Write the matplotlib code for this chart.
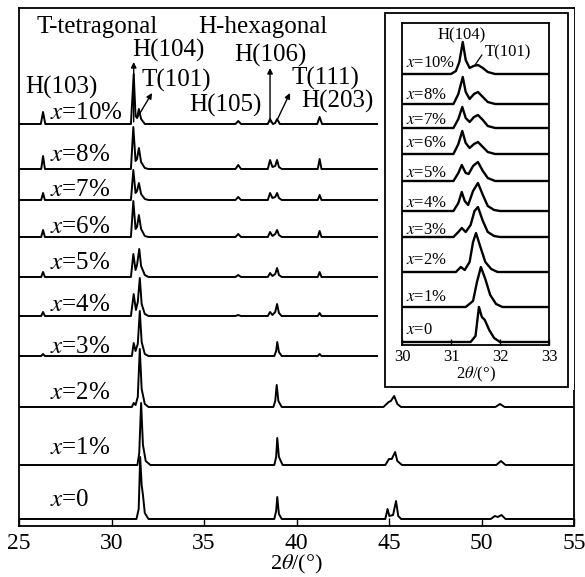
import matplotlib
matplotlib.use("Agg")
import matplotlib.pyplot as plt
from matplotlib.patches import Rectangle

plt.rcParams["font.family"] = ["Liberation Serif", "DejaVu Serif"]
plt.rcParams["mathtext.fontset"] = "stix"

# ── Data: (2theta, intensity above own baseline) ──────────────────────────────
labels = ["$x$=0", "$x$=1%", "$x$=2%", "$x$=3%", "$x$=4%",
          "$x$=5%", "$x$=6%", "$x$=7%", "$x$=8%", "$x$=10%"]

main_0 = [(25, 0), (31.35, 0), (31.47, 10), (31.55, 62), (31.63, 34), (31.7, 24),
          (31.8, 6), (32.0, 0), (38.8, 0), (38.9, 8), (38.96, 22), (39.05, 5),
          (39.2, 0), (44.8, 0), (44.92, 10), (45.02, 3), (45.22, 4), (45.38, 18),
          (45.5, 3), (45.65, 0), (50.5, 0), (50.72, 3), (50.88, 2), (51.08, 4),
          (51.3, 0), (55, 0)]
main_1 = [(25, 0), (31.4, 0), (31.5, 12), (31.6, 62), (31.7, 20), (31.85, 4),
          (32.1, 0), (38.8, 0), (38.9, 8), (38.96, 27), (39.05, 8), (39.25, 0),
          (44.8, 0), (45.0, 6), (45.15, 6), (45.33, 13), (45.45, 4), (45.7, 0),
          (50.8, 0), (51.05, 4), (51.3, 0), (55, 0)]
main_2 = [(25, 0), (31.1, 0), (31.2, 4), (31.3, 2), (31.42, 10), (31.53, 58),
          (31.63, 18), (31.8, 3), (32.0, 0), (38.75, 0), (38.85, 6), (38.93, 22),
          (39.02, 6), (39.2, 0), (44.7, 0), (44.98, 5), (45.1, 6), (45.28, 11),
          (45.45, 3), (45.65, 0), (50.75, 0), (51.0, 3), (51.25, 0), (55, 0)]
main_3 = [(25, 0), (26.2, 0), (26.3, 2), (26.4, 0), (31.1, 0), (31.2, 13),
          (31.3, 5), (31.42, 12), (31.53, 45), (31.63, 14), (31.8, 2), (32.0, 0),
          (38.8, 0), (38.9, 5), (38.96, 14), (39.05, 4), (39.2, 0), (41.15, 0),
          (41.25, 2), (41.35, 0), (55, 0)]
main_4 = [(25, 0), (26.2, 0), (26.3, 4), (26.4, 0), (31.05, 0), (31.2, 22),
          (31.32, 6), (31.42, 14), (31.53, 38), (31.63, 12), (31.8, 2), (32.0, 0),
          (36.7, 0), (36.85, 1), (37.0, 0), (38.45, 0), (38.57, 4), (38.7, 1),
          (38.85, 4), (38.95, 12), (39.05, 3), (39.2, 0), (41.15, 0), (41.25, 3),
          (41.35, 0), (55, 0)]
main_5 = [(25, 0), (26.2, 0), (26.3, 5), (26.4, 0), (31.05, 0), (31.18, 23),
          (31.3, 7), (31.38, 12), (31.5, 28), (31.6, 11), (31.8, 2), (32.0, 0),
          (36.7, 0), (36.85, 2), (37.0, 0), (38.45, 0), (38.57, 4), (38.7, 1),
          (38.85, 3), (38.95, 9), (39.05, 2), (39.2, 0), (41.15, 0), (41.25, 5),
          (41.35, 0), (55, 0)]
main_6 = [(25, 0), (26.2, 0), (26.3, 7), (26.4, 0), (31.05, 0), (31.18, 36),
          (31.3, 8), (31.38, 10), (31.48, 22), (31.6, 8), (31.8, 1), (32.0, 0),
          (36.7, 0), (36.85, 3), (37.0, 0), (38.45, 0), (38.57, 5), (38.7, 1),
          (38.85, 3), (38.95, 7), (39.05, 2), (39.2, 0), (41.15, 0), (41.25, 6),
          (41.35, 0), (55, 0)]
main_7 = [(25, 0), (26.2, 0), (26.3, 7), (26.4, 0), (31.05, 0), (31.18, 30),
          (31.3, 7), (31.38, 9), (31.48, 17), (31.6, 6), (31.8, 1), (32.0, 0),
          (36.7, 0), (36.85, 3), (37.0, 0), (38.45, 0), (38.57, 7), (38.7, 2),
          (38.85, 3), (38.95, 7), (39.05, 2), (39.2, 0), (41.15, 0), (41.25, 5),
          (41.35, 0), (55, 0)]
main_8 = [(25, 0), (26.2, 0), (26.3, 13), (26.4, 0), (31.05, 0), (31.18, 42),
          (31.3, 8), (31.38, 10), (31.48, 21), (31.6, 7), (31.8, 1), (32.0, 0),
          (36.7, 0), (36.85, 4), (37.0, 0), (38.45, 0), (38.57, 9), (38.7, 2),
          (38.85, 3), (38.95, 9), (39.05, 2), (39.2, 0), (41.15, 0), (41.25, 10),
          (41.35, 0), (55, 0)]
main_10 = [(25, 0), (26.18, 0), (26.3, 12), (26.42, 0), (31.05, 0), (31.2, 50),
           (31.3, 8), (31.38, 6), (31.48, 15), (31.6, 5), (31.8, 0), (36.7, 0),
           (36.85, 3), (37.0, 0), (38.45, 0), (38.57, 5), (38.72, 0), (38.85, 1),
           (38.95, 5), (39.1, 0), (41.12, 0), (41.25, 7), (41.38, 0), (55, 0)]

# inset, 30-33 deg
ins_0 = [(30, 0), (31.4, 0), (31.5, 6), (31.57, 35), (31.63, 25), (31.69, 22),
         (31.78, 12), (31.88, 4), (32.0, 0), (33, 0)]
ins_1 = [(30, 0), (31.3, 0), (31.45, 6), (31.53, 25), (31.61, 40), (31.7, 28),
         (31.8, 12), (31.92, 3), (32.05, 0), (33, 0)]
ins_2 = [(30, 0), (31.1, 0), (31.2, 5), (31.28, 2), (31.38, 10), (31.45, 30),
         (31.51, 39), (31.6, 25), (31.7, 10), (31.82, 3), (31.95, 0), (33, 0)]
ins_3 = [(30, 0), (31.05, 0), (31.15, 5), (31.22, 9), (31.3, 5), (31.4, 12),
         (31.48, 26), (31.55, 30), (31.65, 16), (31.75, 5), (31.88, 1), (32.0, 0), (33, 0)]
ins_4 = [(30, 0), (31.05, 0), (31.15, 8), (31.22, 19), (31.28, 10), (31.35, 6),
         (31.45, 20), (31.55, 28), (31.65, 16), (31.75, 5), (31.88, 1), (32.0, 0), (33, 0)]
ins_5 = [(30, 0), (31.05, 0), (31.15, 8), (31.22, 16), (31.3, 8), (31.36, 7),
         (31.45, 15), (31.55, 19), (31.65, 10), (31.75, 3), (31.9, 0), (33, 0)]
ins_6 = [(30, 0), (31.05, 0), (31.15, 10), (31.23, 23), (31.3, 11), (31.38, 6),
         (31.47, 10), (31.55, 12), (31.65, 7), (31.75, 2), (31.9, 0), (33, 0)]
ins_7 = [(30, 0), (31.05, 0), (31.15, 9), (31.23, 21), (31.3, 10), (31.38, 6),
         (31.47, 11), (31.55, 13), (31.65, 8), (31.75, 2), (31.9, 0), (33, 0)]
ins_8 = [(30, 0), (31.05, 0), (31.15, 10), (31.24, 27), (31.3, 12), (31.38, 5),
         (31.47, 10), (31.55, 12), (31.65, 7), (31.75, 2), (31.9, 0), (33, 0)]
ins_10 = [(30, 0), (31.0, 0), (31.1, 3), (31.17, 12), (31.24, 32), (31.3, 14),
          (31.38, 6), (31.46, 8), (31.55, 9), (31.65, 6), (31.75, 2), (31.9, 0), (33, 0)]

main_traces = [main_0, main_1, main_2, main_3, main_4,
               main_5, main_6, main_7, main_8, main_10]
ins_traces = [ins_0, ins_1, ins_2, ins_3, ins_4,
              ins_5, ins_6, ins_7, ins_8, ins_10]

# vertical stacking offsets (a.u.)
main_offsets = [7, 61, 119, 170, 210, 249, 289, 326, 357, 402]
ins_offsets = [3, 38, 73, 108, 134, 164, 191, 217, 241, 271]
main_label_y = [26, 78, 133, 179, 221, 263, 299, 336, 371, 413]
ins_label_y = [15, 48, 85, 115, 142, 172, 202, 225, 250, 282]

# ── Figure ───────────────────────────────────────────────────────────────────
W, H = 585, 577
fig = plt.figure(figsize=(W / 100, H / 100), dpi=100)


def fx(px):
    return px / W


def fy(py):
    return 1 - py / H


FS = 18

ax = fig.add_axes([fx(19), fy(526), fx(574) - fx(19), fy(8) - fy(526)])
for tr, off in zip(main_traces, main_offsets):
    xs = [p[0] for p in tr]
    ys = [p[1] + off for p in tr]
    ax.plot(xs, ys, color="black", lw=1.4, zorder=2)

for lab, ly in zip(labels, main_label_y):
    ax.text(26.68, ly, lab, fontsize=FS, ha="left", va="center")

ax.set_xlim(25, 55)
ax.set_ylim(0, 518)
ax.set_yticks([])
ax.set_xticks(range(25, 56, 5))
ax.tick_params(axis="x", direction="in", length=6, width=1, labelsize=17, pad=5)
for s in ax.spines.values():
    s.set_linewidth(1.3)
ax.set_xlabel(r"2$\theta$/(°)", fontsize=16, labelpad=-1)

# annotations
ax.text(29.2, 499, "T-tetragonal", fontsize=FS, ha="center", va="center")
ax.text(38.19, 499, "H-hexagonal", fontsize=FS, ha="center", va="center")
ax.text(27.27, 439, "H(103)", fontsize=FS, ha="center", va="center")
ax.text(33.05, 476, "H(104)", fontsize=FS, ha="center", va="center")
ax.text(33.5, 446, "T(101)", fontsize=FS, ha="center", va="center")
ax.text(36.14, 421, "H(105)", fontsize=FS, ha="center", va="center")
ax.text(38.57, 471, "H(106)", fontsize=FS, ha="center", va="center")
ax.text(41.54, 448, "T(111)", fontsize=FS, ha="center", va="center")
ax.text(42.2, 425, "H(203)", fontsize=FS, ha="center", va="center")

arrow = dict(arrowstyle="-|>", lw=1, color="black", mutation_scale=8,
             shrinkA=0, shrinkB=0)
ax.annotate("", xy=(31.2, 464), xytext=(31.2, 404), arrowprops=arrow)
ax.annotate("", xy=(32.19, 433), xytext=(31.38, 408), arrowprops=arrow)
ax.annotate("", xy=(38.57, 458), xytext=(38.57, 404), arrowprops=arrow)
ax.annotate("", xy=(39.65, 433), xytext=(38.95, 406), arrowprops=arrow)

# white area and frame behind the inset
fig.patches.append(Rectangle((fx(378), fy(390)), fx(573.5) - fx(378), fy(9) - fy(390),
                             transform=fig.transFigure, facecolor="white",
                             edgecolor="none", zorder=3))
fig.patches.append(Rectangle((fx(385), fy(387)), fx(568) - fx(385), fy(13) - fy(387),
                             transform=fig.transFigure, facecolor="none",
                             edgecolor="black", lw=1.3, zorder=4))

# ── Inset ────────────────────────────────────────────────────────────────────
ax2 = fig.add_axes([fx(402), fy(345), fx(549) - fx(402), fy(23) - fy(345)])
ax2.set_zorder(5)
for tr, off in zip(ins_traces, ins_offsets):
    xs = [p[0] for p in tr]
    ys = [p[1] + off for p in tr]
    ax2.plot(xs, ys, color="black", lw=1.7)

for lab, ly in zip(labels, ins_label_y):
    ax2.text(30.08, ly, lab, fontsize=12, ha="left", va="center")

ax2.text(31.22, 310, "H(104)", fontsize=12, ha="center", va="center")
ax2.text(32.17, 293, "T(101)", fontsize=12, ha="center", va="center")
ax2.plot([31.49, 31.63], [280, 290], color="black", lw=0.9)

ax2.set_xlim(30, 33)
ax2.set_ylim(0, 322)
ax2.set_yticks([])
ax2.set_xticks([30, 31, 32, 33])
ax2.tick_params(axis="x", direction="in", length=4, width=1, labelsize=12, pad=3)
for s in ax2.spines.values():
    s.set_linewidth(1.3)
ax2.set_xlabel(r"2$\theta$/(°)", fontsize=12, labelpad=0)

fig.savefig("out.png", dpi=100)
